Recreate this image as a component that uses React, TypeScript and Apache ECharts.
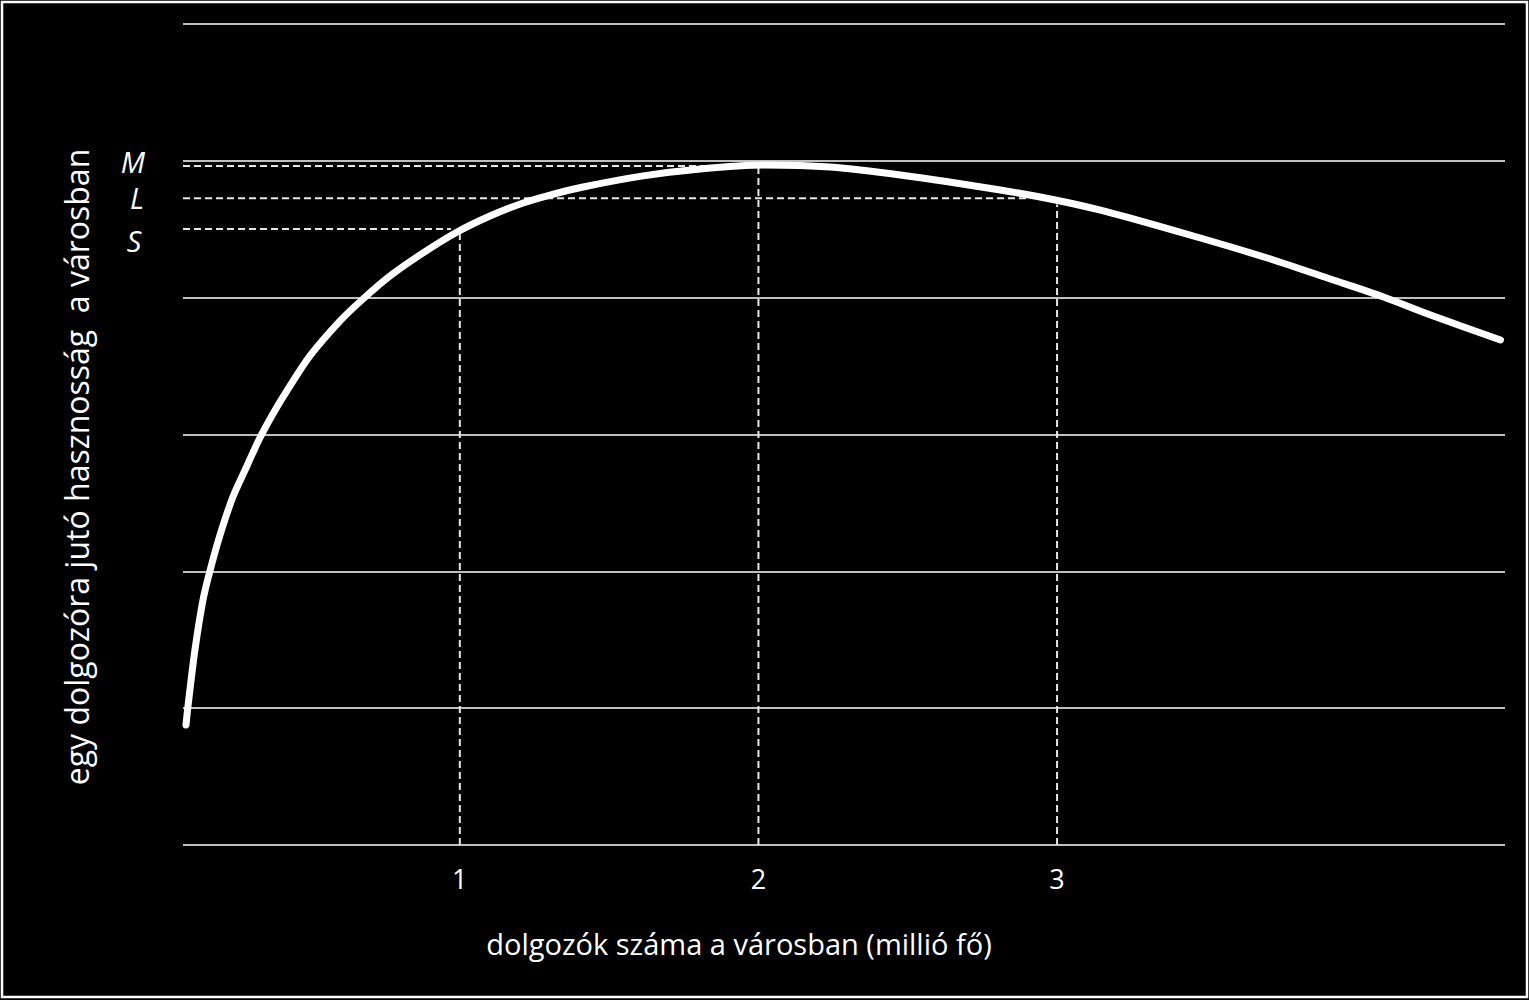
import React, { useEffect, useRef } from "react";
import * as echarts from "echarts";

// Curve: utility per worker vs. number of workers (million)
const curveX = [0.083, 0.089, 0.113, 0.14, 0.163, 0.197, 0.24, 0.284, 0.327, 0.374, 0.425, 0.498, 0.599, 0.672, 0.766, 0.877, 0.991, 1.101, 1.212, 1.302, 1.413, 1.614, 1.805, 2.022, 2.24, 2.475, 2.81, 2.994, 3.145, 3.255, 3.48, 3.704, 3.925, 4.093, 4.26, 4.485];
const curveY = [0.877, 1.001, 1.425, 1.791, 2.002, 2.266, 2.543, 2.755, 2.96, 3.15, 3.333, 3.574, 3.83, 3.983, 4.158, 4.327, 4.48, 4.597, 4.692, 4.75, 4.809, 4.89, 4.941, 4.97, 4.955, 4.897, 4.787, 4.714, 4.64, 4.575, 4.436, 4.29, 4.129, 4.005, 3.866, 3.691];

// Reference levels (S, L, M) and city sizes
const levelNames = ["M", "L", "S"];
const levelValues = [4.962, 4.726, 4.502];
const levelEndX = [2.0, 2.91, 0.97];
const citySizes = [1, 2, 3];
const cityTopY = [4.48, 4.96, 4.68];

const xTickLabels = [1, 2, 3];
const xMin = 0.073;
const xMax = 4.5;
const yMin = 0;
const yMax = 6;

const xTitle = "dolgozók száma a városban (millió fő)";
const yTitle = "egy dolgozóra jutó hasznosság  a városban";

const FONT = "'Open Sans'";

export default function App() {
  const ref = useRef<HTMLDivElement>(null);
  useEffect(() => {
    if (!ref.current) return;
    const chart = echarts.init(ref.current, null, { renderer: "svg" });
    const dashStyle = { color: "#e6e6e6", width: 2, type: [7, 4] as any };
    const series: any[] = [];
    series.push({
      type: "line",
      data: curveX.map((x, i) => [x, curveY[i]]),
      smooth: 0.3,
      symbol: "none",
      silent: true,
      z: 5,
      lineStyle: { color: "#ffffff", width: 7, cap: "round", join: "round" },
    });
    levelValues.forEach((v, i) => {
      series.push({
        type: "line",
        name: levelNames[i],
        data: [[xMin, v], [levelEndX[i], v]],
        symbol: "none",
        silent: true,
        z: 3,
        lineStyle: dashStyle,
      });
    });
    citySizes.forEach((c, i) => {
      series.push({
        type: "line",
        data: [[c, 0], [c, cityTopY[i]]],
        symbol: "none",
        silent: true,
        z: 3,
        lineStyle: dashStyle,
      });
    });

    chart.setOption({
      animation: false,
      backgroundColor: "#000000",
      grid: { left: 183, right: 24, top: 24, bottom: 155, containLabel: false },
      xAxis: {
        type: "value",
        min: xMin,
        max: xMax,
        axisLine: { show: false },
        axisTick: { show: false },
        splitLine: { show: false },
        axisLabel: {
          customValues: xTickLabels,
          color: "#ffffff",
          fontFamily: FONT,
          fontSize: 27,
          margin: 20,
          formatter: (v: number) => String(Math.round(v)),
        },
      },
      yAxis: {
        type: "value",
        min: yMin,
        max: yMax,
        interval: 1,
        axisLine: { show: false },
        axisTick: { show: false },
        axisLabel: { show: false },
        splitLine: { show: true, lineStyle: { color: "#ffffff", width: 1.5 } },
      },
      series,
      graphic: [
        {
          type: "rect",
          shape: { x: 2, y: 2, width: 1525, height: 995 },
          style: { fill: "none", stroke: "#ffffff", lineWidth: 2.5 },
          silent: true,
          z: 10,
        },
        {
          type: "text",
          x: 739,
          y: 943,
          style: {
            text: xTitle,
            fill: "#ffffff",
            font: `29px ${FONT}`,
            align: "center",
            verticalAlign: "middle",
          },
        },
        {
          type: "text",
          x: 76,
          y: 467,
          rotation: Math.PI / 2,
          style: {
            text: yTitle,
            fill: "#ffffff",
            font: `32px ${FONT}`,
            align: "center",
            verticalAlign: "middle",
          },
        },
        ...levelNames.map((n, i) => ({
          type: "text",
          x: [133, 137, 134][i],
          y: [161, 197, 240][i],
          style: {
            text: n,
            fill: "#ffffff",
            font: `italic 29px ${FONT}`,
            align: "center",
            verticalAlign: "middle",
          },
        })),
      ],
    });
    return () => chart.dispose();
  }, []);
  return (
    <div
      ref={ref}
      style={{ position: "absolute", left: 0, top: 0, width: 1529, height: 1000, background: "#000" }}
    />
  );
}
